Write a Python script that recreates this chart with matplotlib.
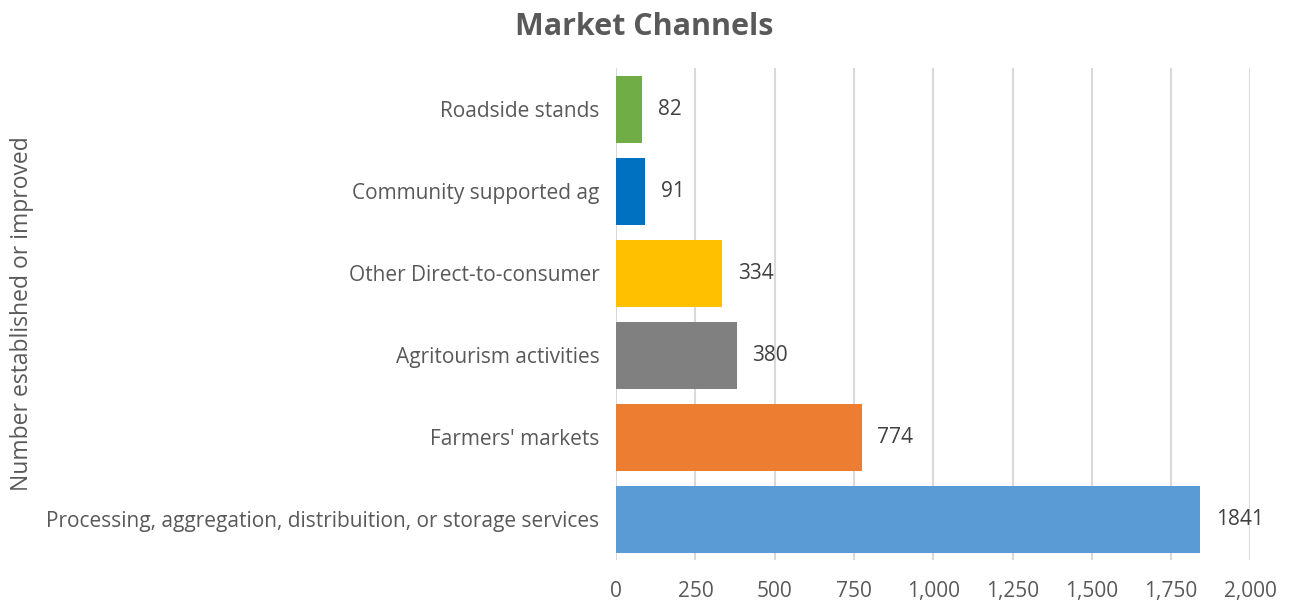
import matplotlib.pyplot as plt
from matplotlib.ticker import FuncFormatter

categories = ["Processing, aggregation, distribuition, or storage services",
              "Farmers' markets",
              "Agritourism activities",
              "Other Direct-to-consumer",
              "Community supported ag",
              "Roadside stands"]
values = [1841, 774, 380, 334, 91, 82]
colors = ["#5B9BD5", "#ED7D31", "#808080", "#FFC000", "#0070C0", "#70AD47"]
x_ticks = [0, 250, 500, 750, 1000, 1250, 1500, 1750, 2000]

plt.rcParams['font.family'] = ['Open Sans', 'DejaVu Sans']
text_color = "#595959"

fig = plt.figure(figsize=(12.89, 6.03), dpi=100)
ax = fig.add_axes([0.478, 0.071, 0.492, 0.816])

pos = list(range(len(categories)))
bars = ax.barh(pos, values, height=0.82, color=colors, zorder=3)

for y, v in zip(pos, values):
    ax.text(v + 50, y, str(v), va="center", ha="left", fontsize=15, color="#404040")

ax.set_xlim(0, 2000)
ax.set_ylim(-0.5, 5.5)
ax.set_xticks(x_ticks)
ax.xaxis.set_major_formatter(FuncFormatter(lambda v, p: f"{int(v):,}"))
ax.set_yticks(pos)
ax.set_yticklabels(categories)
ax.tick_params(axis="both", length=0, labelsize=15, colors=text_color)
ax.tick_params(axis="y", pad=12)
ax.tick_params(axis="x", pad=15)
ax.grid(axis="x", color="#D9D9D9", linewidth=1.5, zorder=0)
for s in ax.spines.values():
    s.set_visible(False)

fig.text(0.017, 0.48, "Number established or improved", rotation=90,
         va="center", ha="center", fontsize=16.5, color=text_color)
fig.text(0.5, 0.955, "Market Channels", ha="center", va="center",
         fontsize=22, fontweight="bold", color=text_color)

fig.savefig("out.png", dpi=100)
